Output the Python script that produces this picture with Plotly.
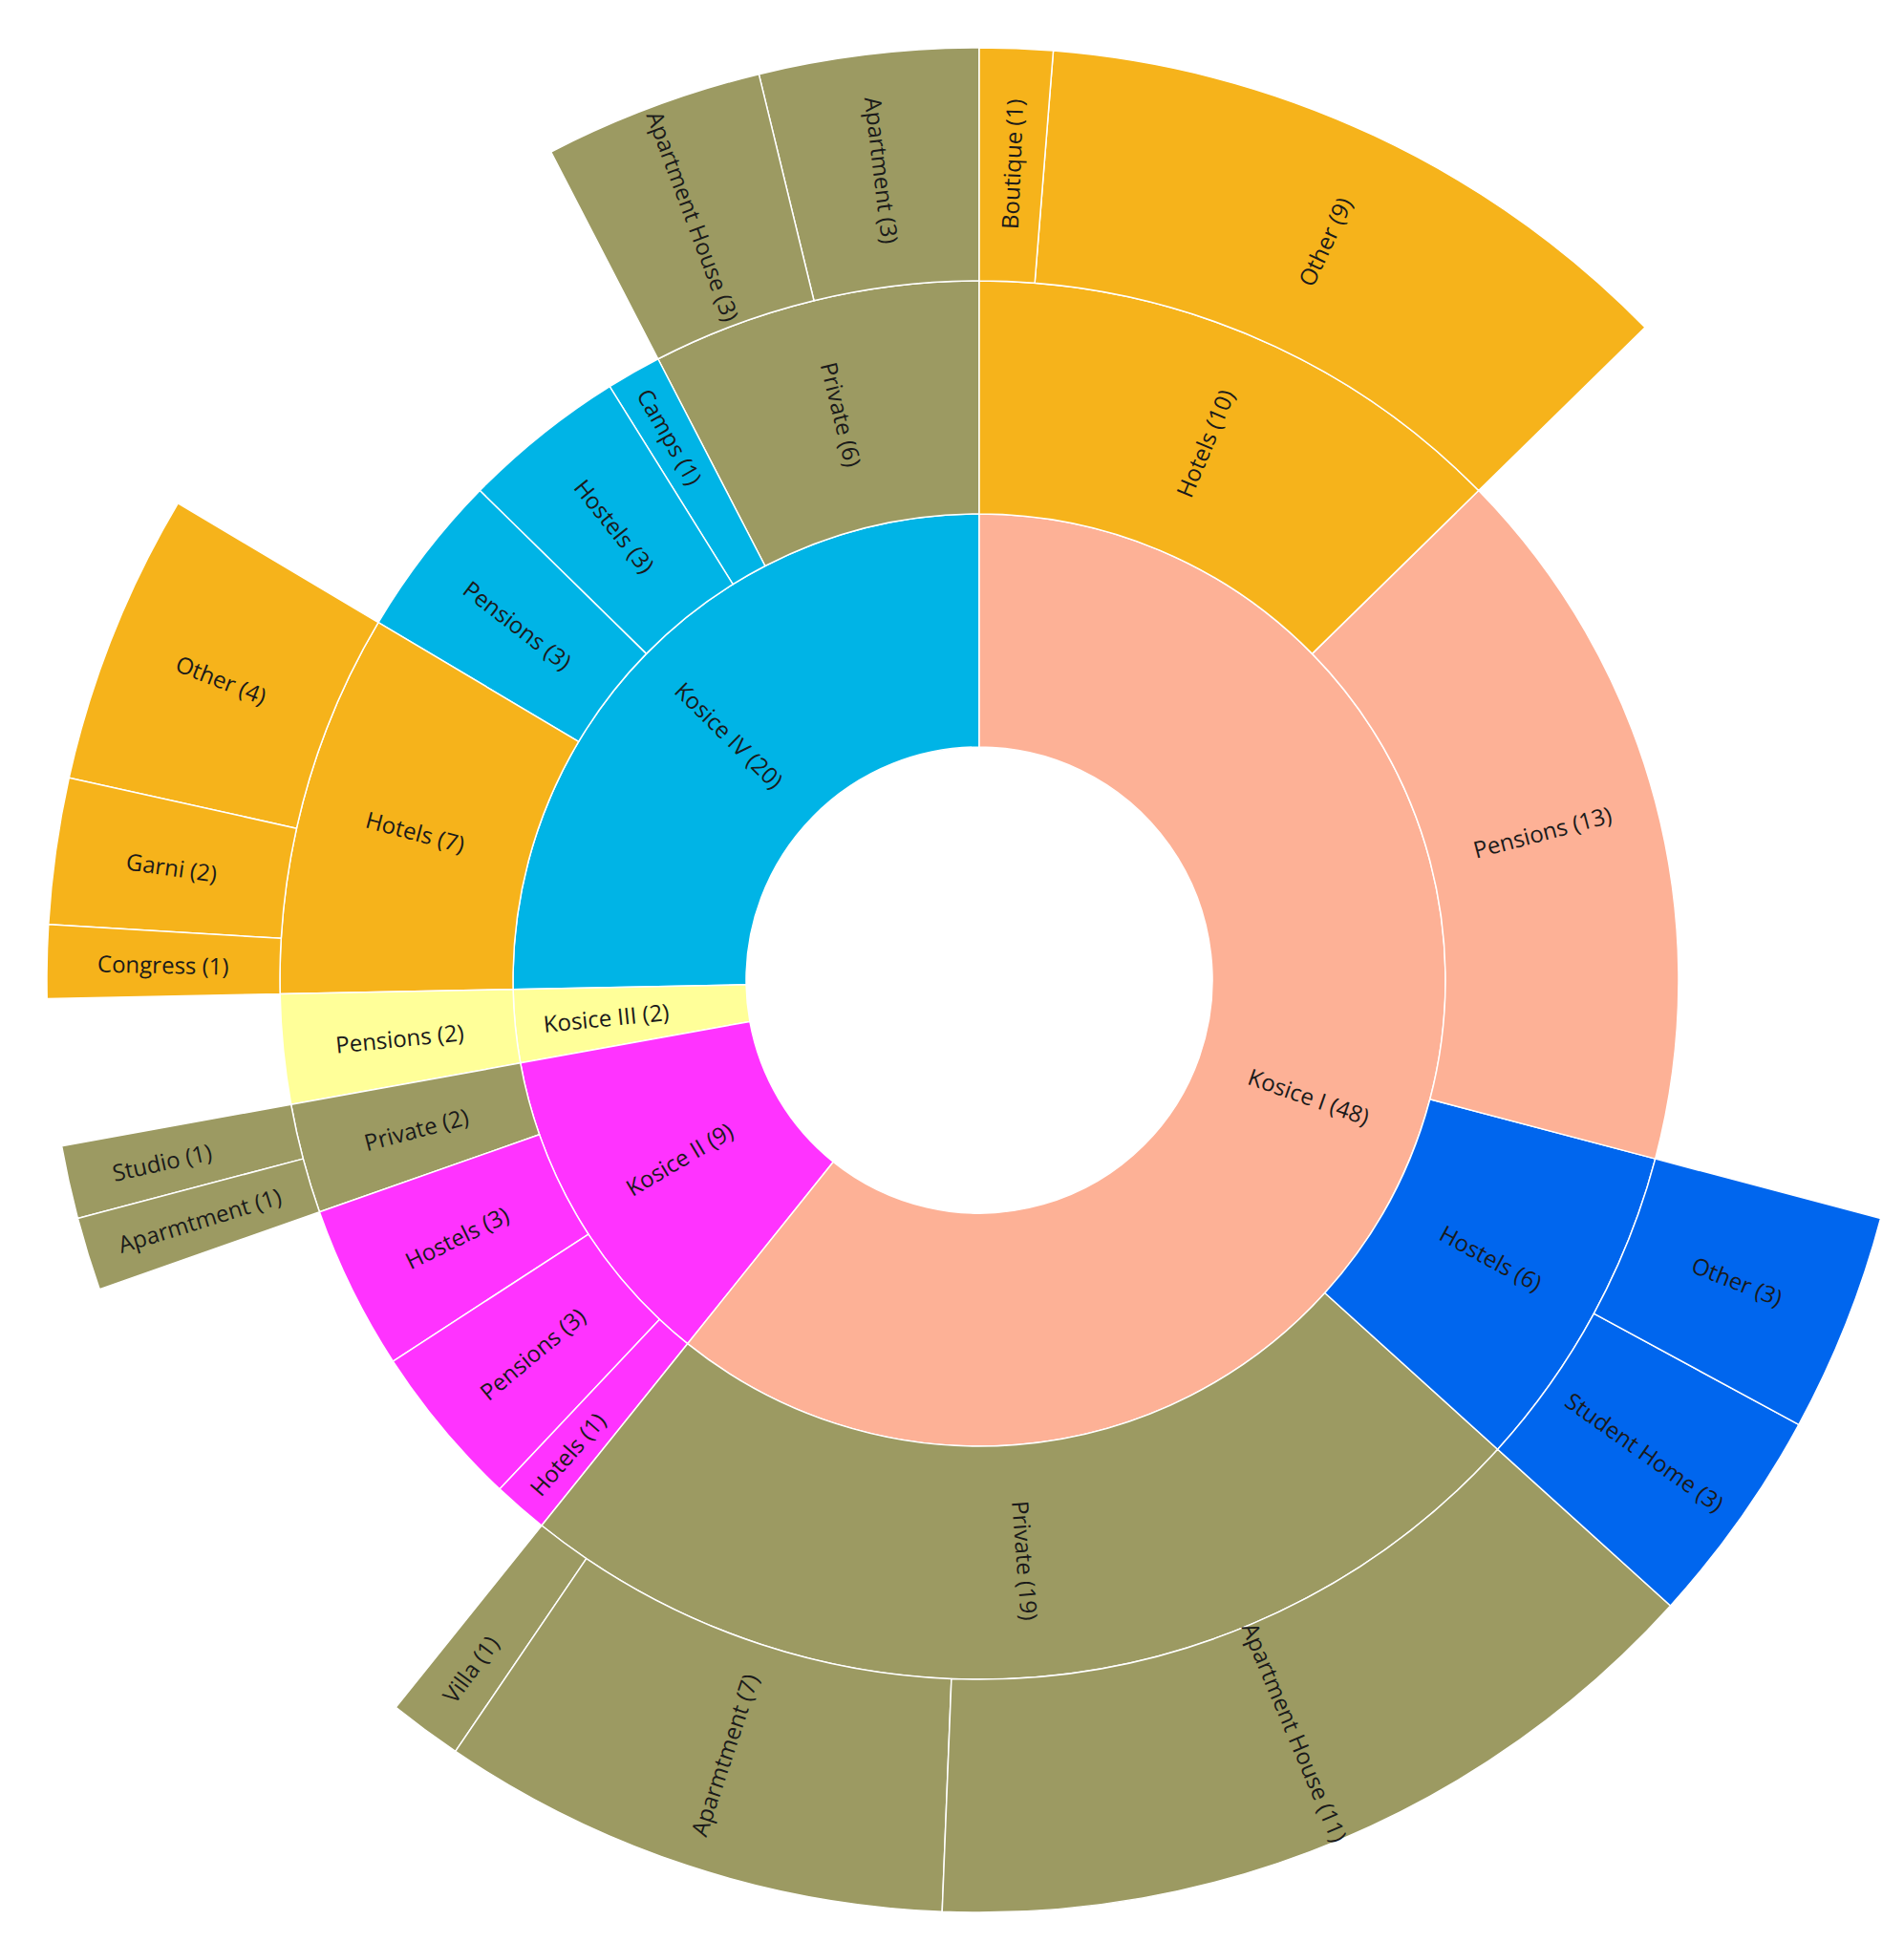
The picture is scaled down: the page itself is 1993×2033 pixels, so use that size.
import math
import plotly.graph_objects as go

SALMON = "#FDB196"
ORANGE = "#F6B31B"
OLIVE = "#9C9A62"
MAGENTA = "#FF33FF"
CYAN = "#00B4E6"
BLUE = "#0066EE"
LIGHT_YELLOW = "#FFFF99"

# level 1: districts (clockwise from 12 o'clock)
districts = ["Kosice I", "Kosice II", "Kosice III", "Kosice IV"]
district_values = [48, 9, 2, 20]
district_colors = [SALMON, MAGENTA, LIGHT_YELLOW, CYAN]

# level 2: accommodation types per district
type_parents = ["Kosice I", "Kosice I", "Kosice I", "Kosice I",
                "Kosice II", "Kosice II", "Kosice II", "Kosice II",
                "Kosice III",
                "Kosice IV", "Kosice IV", "Kosice IV", "Kosice IV", "Kosice IV"]
type_labels = ["Hotels", "Pensions", "Hostels", "Private",
               "Hotels", "Pensions", "Hostels", "Private",
               "Pensions",
               "Hotels", "Pensions", "Hostels", "Camps", "Private"]
type_values = [10, 13, 6, 19,
               1, 3, 3, 2,
               2,
               7, 3, 3, 1, 6]
type_colors = [ORANGE, SALMON, BLUE, OLIVE,
               MAGENTA, MAGENTA, MAGENTA, OLIVE,
               LIGHT_YELLOW,
               ORANGE, CYAN, CYAN, CYAN, OLIVE]

# level 3: sub-types
sub_parents = ["Kosice I/Hotels", "Kosice I/Hotels",
               "Kosice I/Hostels", "Kosice I/Hostels",
               "Kosice I/Private", "Kosice I/Private", "Kosice I/Private",
               "Kosice II/Private", "Kosice II/Private",
               "Kosice IV/Hotels", "Kosice IV/Hotels", "Kosice IV/Hotels",
               "Kosice IV/Private", "Kosice IV/Private"]
sub_labels = ["Boutique", "Other",
              "Other", "Student Home",
              "Apartment House", "Aparmtment", "Villa",
              "Aparmtment", "Studio",
              "Congress", "Garni", "Other",
              "Apartment House", "Apartment"]
sub_values = [1, 9,
              3, 3,
              11, 7, 1,
              1, 1,
              1, 2, 4,
              3, 3]

FONT = dict(family="Open Sans, sans-serif", size=24, color="#1a1a1a")
W, H = 1993, 2033
DOM_X = (41, 1993)   # pixel extent of the (square) sunburst domain
DOM_Y = (42, 1994)
CX, CY = (DOM_X[0] + DOM_X[1]) / 2, (DOM_Y[0] + DOM_Y[1]) / 2
RING = (DOM_X[1] - DOM_X[0]) / 2 / 4
TOTAL = sum(district_values)

type_ids = [f"{p}/{t}" for p, t in zip(type_parents, type_labels)]
sub_ids = [f"{p}/{s}" for p, s in zip(sub_parents, sub_labels)]
parent_color = dict(zip(type_ids, type_colors))

# clockwise angular extents (degrees from 12 o'clock) of every node
span = {"root": (0.0, 360.0)}
cursor = {"root": 0.0}
levels = [
    (districts, districts, ["root"] * len(districts), district_values, district_colors, 1),
    (type_ids, type_labels, type_parents, type_values, type_colors, 2),
    (sub_ids, sub_labels, sub_parents, sub_values, [parent_color[p] for p in sub_parents], 3),
]
depth = {}
for nids, _, pars, vals, _, d in levels:
    for nid, par, val in zip(nids, pars, vals):
        a0 = cursor.get(par, span[par][0])
        a1 = a0 + val / TOTAL * 360
        cursor[par] = a1
        span[nid] = (a0, a1)
        depth[nid] = d

ids, texts, parents, values, colors = ["root"], [""], [""], [TOTAL], ["white"]
annotations = []

for nids, labs, pars, vals, cols, d in levels:
    # plotly lays sectors out counterclockwise, so feed them in reverse
    for nid, lab, par, val, col in reversed(list(zip(nids, labs, pars, vals, cols))):
        label = f"{lab} ({val})"
        a0, a1 = span[nid]
        crosses = any(a0 < c < a1 for c in (90, 270))
        ids.append(nid)
        parents.append(par)
        values.append(val)
        colors.append(col)
        texts.append("" if crosses else label)
        if crosses:
            # plotly snaps radial text to 3/9 o'clock here; place it at mid-angle instead
            mid = (a0 + a1) / 2
            r = (d + 0.5) * RING
            px = CX + r * math.sin(math.radians(mid))
            py = CY - r * math.cos(math.radians(mid))
            ang = mid - 90 if mid < 180 else mid - 270
            annotations.append(dict(
                x=px / W, y=1 - py / H, xref="paper", yref="paper",
                text=label, showarrow=False, textangle=ang,
                xanchor="center", yanchor="middle", font=FONT,
            ))

fig = go.Figure(go.Sunburst(
    ids=ids,
    labels=ids,
    text=texts,
    parents=parents,
    values=values,
    branchvalues="total",
    sort=False,
    rotation=90,
    marker=dict(colors=colors, line=dict(color="white", width=1.5)),
    leaf=dict(opacity=1),
    textinfo="text",
    insidetextorientation="radial",
    textfont=FONT,
    hoverinfo="text",
    domain=dict(x=[DOM_X[0] / W, DOM_X[1] / W], y=[1 - DOM_Y[1] / H, 1 - DOM_Y[0] / H]),
))

fig.update_layout(
    width=W,
    height=H,
    margin=dict(l=0, r=0, t=0, b=0),
    paper_bgcolor="white",
    uniformtext=dict(minsize=24, mode="show"),
    annotations=annotations,
    showlegend=False,
)

fig.write_html("out.html")
